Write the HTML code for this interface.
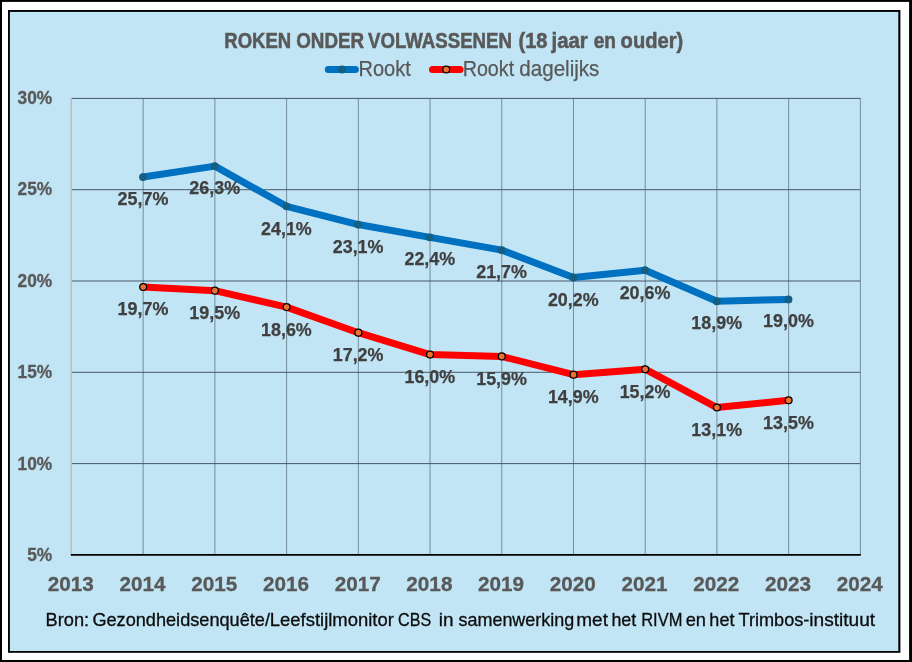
<!DOCTYPE html>
<html><head><meta charset="utf-8"><title>Roken onder volwassenen</title>
<style>
html,body{margin:0;padding:0;background:#fff;}
body{width:912px;height:662px;overflow:hidden;font-family:"Liberation Sans",sans-serif;}
svg{display:block;will-change:transform;font-family:"Liberation Sans",sans-serif;}
</style></head><body>
<svg width="912" height="662" viewBox="0 0 912 662">
<rect x="0" y="0" width="912" height="662" fill="#000"/>
<rect x="2" y="1.9" width="907.1" height="658.1" fill="#fff"/>
<rect x="8" y="10" width="892.4" height="642.8" fill="#000"/>
<rect x="9.9" y="11.9" width="888.4" height="639.1" fill="#c1e5f5"/>

<g stroke="#3f5162" stroke-width="0.95" fill="none">
<line x1="143.17" y1="98.40" x2="143.17" y2="554.90" stroke-width="0.6"/>
<line x1="214.89" y1="98.40" x2="214.89" y2="554.90" stroke-width="0.6"/>
<line x1="286.60" y1="98.40" x2="286.60" y2="554.90" stroke-width="0.6"/>
<line x1="358.32" y1="98.40" x2="358.32" y2="554.90" stroke-width="0.6"/>
<line x1="430.04" y1="98.40" x2="430.04" y2="554.90" stroke-width="0.6"/>
<line x1="501.76" y1="98.40" x2="501.76" y2="554.90" stroke-width="0.6"/>
<line x1="573.48" y1="98.40" x2="573.48" y2="554.90" stroke-width="0.6"/>
<line x1="645.20" y1="98.40" x2="645.20" y2="554.90" stroke-width="0.6"/>
<line x1="716.91" y1="98.40" x2="716.91" y2="554.90" stroke-width="0.6"/>
<line x1="788.63" y1="98.40" x2="788.63" y2="554.90" stroke-width="0.6"/>
<line x1="860.35" y1="98.40" x2="860.35" y2="554.90" stroke-width="0.6"/>
<line x1="71.45" y1="98.40" x2="860.35" y2="98.40"/>
<line x1="71.45" y1="189.70" x2="860.35" y2="189.70"/>
<line x1="71.45" y1="281.00" x2="860.35" y2="281.00"/>
<line x1="71.45" y1="372.30" x2="860.35" y2="372.30"/>
<line x1="71.45" y1="463.60" x2="860.35" y2="463.60"/>
</g>
<line x1="71.2" y1="97.90" x2="71.2" y2="555.70" stroke="#bdbdbd" stroke-width="1.6"/>
<line x1="70.90" y1="554.95" x2="860.80" y2="554.95" stroke="#000" stroke-width="1.8"/>
<polyline points="143.17,177.07 214.89,166.11 286.60,206.28 358.32,224.54 430.04,237.33 501.76,250.11 573.48,277.50 645.20,270.19 716.91,301.24 788.63,299.41" fill="none" stroke="#0070c0" stroke-width="7" stroke-linejoin="round" stroke-linecap="round"/>
<circle cx="143.02" cy="177.07" r="3.9" fill="#156082"/>
<circle cx="214.74" cy="166.11" r="3.9" fill="#156082"/>
<circle cx="286.45" cy="206.28" r="3.9" fill="#156082"/>
<circle cx="358.17" cy="224.54" r="3.9" fill="#156082"/>
<circle cx="429.89" cy="237.33" r="3.9" fill="#156082"/>
<circle cx="501.61" cy="250.11" r="3.9" fill="#156082"/>
<circle cx="573.33" cy="277.50" r="3.9" fill="#156082"/>
<circle cx="645.05" cy="270.19" r="3.9" fill="#156082"/>
<circle cx="716.76" cy="301.24" r="3.9" fill="#156082"/>
<circle cx="788.48" cy="299.41" r="3.9" fill="#156082"/>
<polyline points="143.17,287.03 214.89,290.68 286.60,307.11 358.32,332.68 430.04,354.59 501.76,356.42 573.48,374.68 645.20,369.20 716.91,407.54 788.63,400.24" fill="none" stroke="#ff0000" stroke-width="7" stroke-linejoin="round" stroke-linecap="round"/>
<circle cx="143.17" cy="287.03" r="3.45" fill="#e97132" stroke="#000" stroke-width="1.25"/>
<circle cx="214.89" cy="290.68" r="3.45" fill="#e97132" stroke="#000" stroke-width="1.25"/>
<circle cx="286.60" cy="307.11" r="3.45" fill="#e97132" stroke="#000" stroke-width="1.25"/>
<circle cx="358.32" cy="332.68" r="3.45" fill="#e97132" stroke="#000" stroke-width="1.25"/>
<circle cx="430.04" cy="354.59" r="3.45" fill="#e97132" stroke="#000" stroke-width="1.25"/>
<circle cx="501.76" cy="356.42" r="3.45" fill="#e97132" stroke="#000" stroke-width="1.25"/>
<circle cx="573.48" cy="374.68" r="3.45" fill="#e97132" stroke="#000" stroke-width="1.25"/>
<circle cx="645.20" cy="369.20" r="3.45" fill="#e97132" stroke="#000" stroke-width="1.25"/>
<circle cx="716.91" cy="407.54" r="3.45" fill="#e97132" stroke="#000" stroke-width="1.25"/>
<circle cx="788.63" cy="400.24" r="3.45" fill="#e97132" stroke="#000" stroke-width="1.25"/>
<g font-size="17.9" font-weight="bold" fill="#404040" stroke="#404040" stroke-width="0.25" text-anchor="middle">
<text x="142.97" y="205.07">25,7%</text>
<text x="214.69" y="194.11">26,3%</text>
<text x="286.40" y="235.28">24,1%</text>
<text x="358.12" y="252.54">23,1%</text>
<text x="429.84" y="265.33">22,4%</text>
<text x="501.56" y="278.11">21,7%</text>
<text x="573.28" y="305.50">20,2%</text>
<text x="645.00" y="299.19">20,6%</text>
<text x="716.71" y="329.24">18,9%</text>
<text x="788.43" y="327.41">19,0%</text>
<text x="142.97" y="315.43">19,7%</text>
<text x="214.69" y="319.08">19,5%</text>
<text x="286.40" y="335.51">18,6%</text>
<text x="358.12" y="361.08">17,2%</text>
<text x="429.84" y="382.99">16,0%</text>
<text x="501.56" y="384.82">15,9%</text>
<text x="573.28" y="403.08">14,9%</text>
<text x="645.00" y="397.60">15,2%</text>
<text x="716.71" y="435.94">13,1%</text>
<text x="788.43" y="429.24">13,5%</text>
</g>
<g font-size="18.1" font-weight="bold" fill="#595959" stroke="#595959" stroke-width="0.3">
<text x="17.54" y="103.90" textLength="34.71" lengthAdjust="spacingAndGlyphs">30%</text>
<text x="17.54" y="195.40" textLength="34.71" lengthAdjust="spacingAndGlyphs">25%</text>
<text x="17.54" y="286.90" textLength="34.71" lengthAdjust="spacingAndGlyphs">20%</text>
<text x="17.54" y="378.30" textLength="34.71" lengthAdjust="spacingAndGlyphs">15%</text>
<text x="17.54" y="469.70" textLength="34.71" lengthAdjust="spacingAndGlyphs">10%</text>
<text x="27.18" y="561.30" textLength="25.06" lengthAdjust="spacingAndGlyphs">5%</text>
</g>
<g font-size="20.7" font-weight="bold" fill="#595959" stroke="#595959" stroke-width="0.3" text-anchor="middle">
<text x="70.80" y="590.8">2013</text>
<text x="142.52" y="590.8">2014</text>
<text x="214.24" y="590.8">2015</text>
<text x="285.95" y="590.8">2016</text>
<text x="357.67" y="590.8">2017</text>
<text x="429.39" y="590.8">2018</text>
<text x="501.11" y="590.8">2019</text>
<text x="572.83" y="590.8">2020</text>
<text x="644.55" y="590.8">2021</text>
<text x="716.26" y="590.8">2022</text>
<text x="787.98" y="590.8">2023</text>
<text x="859.70" y="590.8">2024</text>
</g>
<line x1="328.3" y1="69.5" x2="355.4" y2="69.5" stroke="#0070c0" stroke-width="7" stroke-linecap="round"/>
<circle cx="342" cy="69.5" r="3.9" fill="#156082"/>
<line x1="432.5" y1="69.5" x2="460" y2="69.5" stroke="#ff0000" stroke-width="7" stroke-linecap="round"/>
<circle cx="446.2" cy="69.5" r="3.45" fill="#e97132" stroke="#000" stroke-width="1.25"/>
<text x="224.34" y="47.90" font-size="21.8" font-weight="bold" fill="#595959" stroke="#595959" stroke-width="0.55" textLength="66.88" lengthAdjust="spacingAndGlyphs">ROKEN</text>
<text x="296.16" y="47.90" font-size="21.8" font-weight="bold" fill="#595959" stroke="#595959" stroke-width="0.55" textLength="67.95" lengthAdjust="spacingAndGlyphs">ONDER</text>
<text x="368.00" y="47.90" font-size="21.8" font-weight="bold" fill="#595959" stroke="#595959" stroke-width="0.55" textLength="143.98" lengthAdjust="spacingAndGlyphs">VOLWASSENEN</text>
<text x="518.56" y="47.90" font-size="21.8" font-weight="bold" fill="#595959" stroke="#595959" stroke-width="0.55" textLength="28.94" lengthAdjust="spacingAndGlyphs">(18</text>
<text x="551.57" y="47.90" font-size="21.8" font-weight="bold" fill="#595959" stroke="#595959" stroke-width="0.55" textLength="36.22" lengthAdjust="spacingAndGlyphs">jaar</text>
<text x="593.65" y="47.90" font-size="21.8" font-weight="bold" fill="#595959" stroke="#595959" stroke-width="0.55" textLength="22.27" lengthAdjust="spacingAndGlyphs">en</text>
<text x="620.62" y="47.90" font-size="21.8" font-weight="bold" fill="#595959" stroke="#595959" stroke-width="0.55" textLength="62.61" lengthAdjust="spacingAndGlyphs">ouder)</text>
<text x="358.44" y="75.60" font-size="21.5" fill="#595959" stroke="#595959" stroke-width="0.25" textLength="52.30" lengthAdjust="spacingAndGlyphs">Rookt</text>
<text x="462.66" y="75.60" font-size="21.5" fill="#595959" stroke="#595959" stroke-width="0.25" textLength="51.47" lengthAdjust="spacingAndGlyphs">Rookt</text>
<text x="519.36" y="75.60" font-size="21.5" fill="#595959" stroke="#595959" stroke-width="0.25" textLength="79.98" lengthAdjust="spacingAndGlyphs">dagelijks</text>
<text x="45.58" y="626.10" font-size="18.2" fill="#0d0d0d" stroke="#0d0d0d" stroke-width="0.3" textLength="43.57" lengthAdjust="spacingAndGlyphs">Bron:</text>
<text x="92.40" y="626.10" font-size="18.2" fill="#0d0d0d" stroke="#0d0d0d" stroke-width="0.3" textLength="177.54" lengthAdjust="spacingAndGlyphs">Gezondheidsenquête/</text>
<text x="269.81" y="626.10" font-size="18.2" fill="#0d0d0d" stroke="#0d0d0d" stroke-width="0.3" textLength="124.03" lengthAdjust="spacingAndGlyphs">Leefstijlmonitor</text>
<text x="397.99" y="626.10" font-size="18.2" fill="#0d0d0d" stroke="#0d0d0d" stroke-width="0.3" textLength="33.18" lengthAdjust="spacingAndGlyphs">CBS</text>
<text x="438.82" y="626.10" font-size="18.2" fill="#0d0d0d" stroke="#0d0d0d" stroke-width="0.3" textLength="14.75" lengthAdjust="spacingAndGlyphs">in</text>
<text x="458.47" y="626.10" font-size="18.2" fill="#0d0d0d" stroke="#0d0d0d" stroke-width="0.3" textLength="115.79" lengthAdjust="spacingAndGlyphs">samenwerking</text>
<text x="576.31" y="626.10" font-size="18.2" fill="#0d0d0d" stroke="#0d0d0d" stroke-width="0.3" textLength="31.62" lengthAdjust="spacingAndGlyphs">met</text>
<text x="611.38" y="626.10" font-size="18.2" fill="#0d0d0d" stroke="#0d0d0d" stroke-width="0.3" textLength="24.80" lengthAdjust="spacingAndGlyphs">het</text>
<text x="641.21" y="626.10" font-size="18.2" fill="#0d0d0d" stroke="#0d0d0d" stroke-width="0.3" textLength="41.14" lengthAdjust="spacingAndGlyphs">RIVM</text>
<text x="685.68" y="626.10" font-size="18.2" fill="#0d0d0d" stroke="#0d0d0d" stroke-width="0.3" textLength="20.35" lengthAdjust="spacingAndGlyphs">en</text>
<text x="709.37" y="626.10" font-size="18.2" fill="#0d0d0d" stroke="#0d0d0d" stroke-width="0.3" textLength="25.07" lengthAdjust="spacingAndGlyphs">het</text>
<text x="738.47" y="626.10" font-size="18.2" fill="#0d0d0d" stroke="#0d0d0d" stroke-width="0.3" textLength="70.94" lengthAdjust="spacingAndGlyphs">Trimbos-</text>
<text x="809.31" y="626.10" font-size="18.2" fill="#0d0d0d" stroke="#0d0d0d" stroke-width="0.3" textLength="65.88" lengthAdjust="spacingAndGlyphs">instituut</text>
</svg></body></html>
